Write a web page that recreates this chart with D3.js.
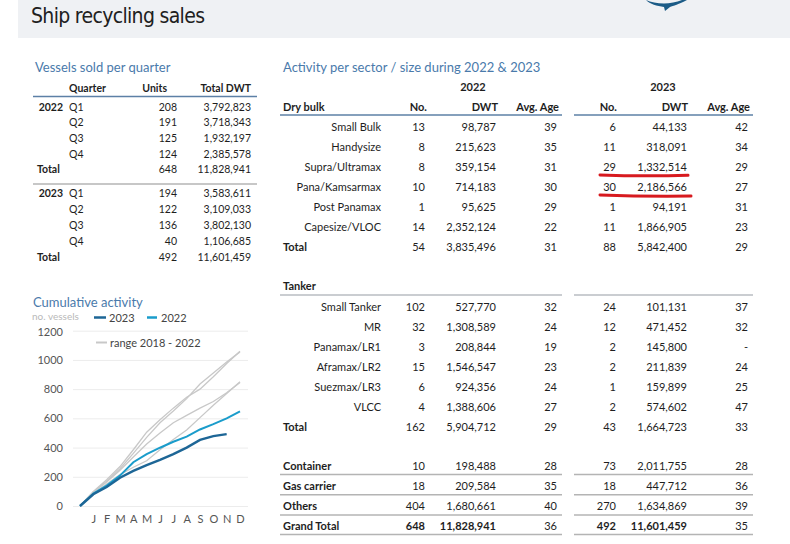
<!DOCTYPE html>
<html><head><meta charset="utf-8">
<script src="https://cdn.jsdelivr.net/npm/d3@7"></script>
<style>body{margin:0;background:#fff} svg{display:block} text{font-family:Lato,"Open Sans",sans-serif}</style>
</head><body>
<svg id="c" width="790" height="544"></svg>
<script>
// ---------- data ----------
const quarters = ["Q1","Q2","Q3","Q4"];
const units2022 = [208,191,125,124];
const dwt2022 = [3792823,3718343,1932197,2385578];
const total2022 = [648,11828941];
const units2023 = [194,122,136,40];
const dwt2023 = [3583611,3109033,3802130,1106685];
const total2023 = [492,11601459];

const dryBulkRows = [
  ["Small Bulk",13,98787,39,6,44133,42],
  ["Handysize",8,215623,35,11,318091,34],
  ["Supra/Ultramax",8,359154,31,29,1332514,29],
  ["Pana/Kamsarmax",10,714183,30,30,2186566,27],
  ["Post Panamax",1,95625,29,1,94191,31],
  ["Capesize/VLOC",14,2352124,22,11,1866905,23]];
const dryBulkTotal = ["Total",54,3835496,31,88,5842400,29];
const tankerRows = [
  ["Small Tanker",102,527770,32,24,101131,37],
  ["MR",32,1308589,24,12,471452,32],
  ["Panamax/LR1",3,208844,19,2,145800,null],
  ["Aframax/LR2",15,1546547,23,2,211839,24],
  ["Suezmax/LR3",6,924356,24,1,159899,25],
  ["VLCC",4,1388606,27,2,574602,47]];
const tankerTotal = ["Total",162,5904712,29,43,1664723,33];
const otherRows = [
  ["Container",10,198488,28,73,2011755,28],
  ["Gas carrier",18,209584,35,18,447712,36],
  ["Others",404,1680661,40,270,1634869,39]];
const grandTotal = ["Grand Total",648,11828941,36,492,11601459,35];
const highlighted = ["Supra/Ultramax","Pana/Kamsarmax"];

const monthLabels = ["","J","F","M","A","M","J","J","A","S","O","N","D"];
const cum2023 = [0,80,130,194,240,280,316,355,400,452,478,492];
const cum2022 = [0,85,140,208,300,355,399,440,475,524,560,600,648];
const range2018_2022 = [
  [0,100,180,270,385,505,590,670,745,800,885,975,1060],
  [0,95,170,255,360,470,570,650,735,835,910,985,1055],
  [0,95,165,245,335,425,500,570,620,670,715,775,845],
  [0,85,150,215,265,310,385,455,520,605,690,770,850]];
const yTicks = [0,200,400,600,800,1000,1200];

// ---------- helpers ----------
const svg = d3.select("#c");
const fmt = d3.format(",");
const BLUE_T = "#4a7aab", RULE = "#5d80a6", GREY_RULE = "#b4b4b4", INK = "#1e1e1e";
function txt(x,y,s,o={}){
  return svg.append("text").attr("x",x).attr("y",y).text(s)
    .attr("text-anchor",o.a||"start").attr("font-weight",o.w||"normal")
    .attr("font-size",o.s||11).attr("fill",o.c||INK);
}
function rule(x1,x2,y,c,w){svg.append("line").attr("x1",x1).attr("x2",x2).attr("y1",y).attr("y2",y).attr("stroke",c).attr("stroke-width",w);}

// ---------- header ----------
svg.append("rect").attr("x",18).attr("y",0).attr("width",772).attr("height",38).attr("fill","#eff1f4");
txt(31,23,"Ship recycling sales",{s:21,c:"#202020"}).style("font-family","'Liberation Sans Narrow','DejaVu Sans Condensed',sans-serif").attr("textLength",174);
svg.append("path").attr("d","M646,0 C655,4 670,5 682,0 L687,0 C679,4 673,6 670,7 L665,11 L664,7 C657,6 650,4 646,0 Z").attr("fill","#1b5b86");

// ---------- left table ----------
txt(35,72,"Vessels sold per quarter",{s:13,c:BLUE_T});
txt(69,92,"Quarter",{w:"bold",s:10.5});
txt(167,92,"Units",{w:"bold",s:10.5,a:"end"});
txt(251,92,"Total DWT",{w:"bold",s:10.5,a:"end"});
rule(33,257,96.5,RULE,1.5);
function quarterBlock(year,units,dwt,tot,y0,step){
  quarters.forEach((q,i)=>{
    const y=y0+i*step;
    if(i===0) txt(63,y,year,{w:"bold",s:10.5,a:"end"});
    txt(69,y,q,{s:10.5});
    txt(177,y,units[i],{s:10.5,a:"end"});
    txt(251,y,fmt(dwt[i]),{s:10.5,a:"end"});
  });
  const yt=y0+4*step;
  txt(37,yt,"Total",{w:"bold",s:10.5});
  txt(177,yt,tot[0],{s:10.5,a:"end"});
  txt(251,yt,fmt(tot[1]),{s:10.5,a:"end"});
}
quarterBlock("2022",units2022,dwt2022,total2022,110.5,15.7);
rule(33,257,184,GREY_RULE,1.5);
quarterBlock("2023",units2023,dwt2023,total2023,196.5,16);

// ---------- right table ----------
txt(283,72,"Activity per sector / size during 2022 & 2023",{s:13,c:BLUE_T});
txt(473,91,"2022",{w:"bold",a:"middle"});
txt(663,91,"2023",{w:"bold",a:"middle"});
const colX = [425,496,557,616,687,748];
const hdrX = [427,498,559,617,688,750];
const hdrs = ["No.","DWT","Avg. Age","No.","DWT","Avg. Age"];
txt(283,110.5,"Dry bulk",{w:"bold"});
hdrs.forEach((h,i)=>txt(hdrX[i],110.5,h,{w:"bold",a:"end"}));
function splitRule(y,c,w){rule(280,562,y,c,w);rule(574,753,y,c,w);}
splitRule(115,RULE,1.5);
function row(r,y,o={}){
  if(o.left) txt(283,y,r[0],{w:"bold"});
  else txt(381,y,r[0],{a:"end"});
  r.slice(1).forEach((v,i)=>{
    const bold = o.boldNums && (i%3!==2);
    txt(colX[i],y,v===null?"-":fmt(v),{a:"end",w:bold?"bold":"normal"});
  });
}
dryBulkRows.forEach((r,i)=>row(r,130.7+i*20));
row(dryBulkTotal,250.7,{left:true});

// hand-drawn highlight marks
const yOfDry = name => 130.7 + dryBulkRows.findIndex(r=>r[0]===name)*20;
highlighted.forEach((n,k)=>{
  const y=yOfDry(n)+4.5, x1=600, x2=k?691:688;
  svg.append("path").attr("d",`M${x1},${y-0.3} Q${(x1+x2)/2},${y+1.4} ${x2},${y+(k?0.8:0)}`)
    .attr("fill","none").attr("stroke","#d71a1f").attr("stroke-width",3).attr("stroke-linecap","round");
});

txt(283,290,"Tanker",{w:"bold"});
splitRule(295,"#b8bcc2",1.5);
tankerRows.forEach((r,i)=>row(r,310.7+i*20));
row(tankerTotal,430.7,{left:true});

otherRows.forEach((r,i)=>{row(r,470+i*20,{left:true}); splitRule(474.5+i*20.2,GREY_RULE,1.5);});
row(grandTotal,530,{left:true,boldNums:true});
splitRule(534.5,GREY_RULE,1.5);

// ---------- cumulative chart ----------
txt(33,307,"Cumulative activity",{s:13,c:BLUE_T});
txt(32,320,"no. vessels",{s:10,c:"#b9b9b9"});
const C23="#1d6696", C22="#1a9ccb", CR="#c8c8c8";
svg.append("line").attr("x1",94).attr("x2",106).attr("y1",317.5).attr("y2",317.5).attr("stroke",C23).attr("stroke-width",2.5);
txt(109,321.5,"2023",{s:11,c:"#444"});
svg.append("line").attr("x1",147).attr("x2",157).attr("y1",317.5).attr("y2",317.5).attr("stroke",C22).attr("stroke-width",2.5);
txt(161,321.5,"2022",{s:11,c:"#444"});
svg.append("line").attr("x1",96).attr("x2",107).attr("y1",342.5).attr("y2",342.5).attr("stroke",CR).attr("stroke-width",2);
txt(110,346.5,"range 2018 - 2022",{s:11,c:"#444"});

const x = d3.scalePoint().domain(d3.range(monthLabels.length)).range([80,240]);
const y = d3.scaleLinear().domain([0,1200]).range([506,330.7]);
const g = svg.append("g");
const yAx = g.append("g").attr("transform","translate(73,0)")
  .call(d3.axisLeft(y).tickValues(yTicks).tickSize(-175).tickPadding(10).tickFormat(d3.format("d")));
yAx.select(".domain").remove();
yAx.selectAll(".tick line").attr("stroke","#ececec").attr("stroke-width",1);
yAx.selectAll(".tick text").attr("fill","#555").attr("font-size",11).attr("font-family","Lato,sans-serif");
yAx.selectAll(".tick").filter(d=>d===1200).select("text").attr("dy","0.45em");
const xAx = g.append("g").attr("transform","translate(0,512)")
  .call(d3.axisBottom(x).tickSize(0).tickPadding(3).tickFormat(i=>monthLabels[i]));
xAx.select(".domain").remove();
xAx.selectAll(".tick text").attr("fill","#555").attr("font-size",11).attr("font-family","Lato,sans-serif");

const line = d3.line().x((d,i)=>x(i)).y(d=>y(d));
range2018_2022.forEach(s=>g.append("path").datum(s).attr("d",line).attr("fill","none").attr("stroke",CR).attr("stroke-width",1.3));
g.append("path").datum(cum2022).attr("d",line).attr("fill","none").attr("stroke",C22).attr("stroke-width",2);
g.append("path").datum(cum2023).attr("d",line).attr("fill","none").attr("stroke",C23).attr("stroke-width",2.4);
</script>
</body></html>
